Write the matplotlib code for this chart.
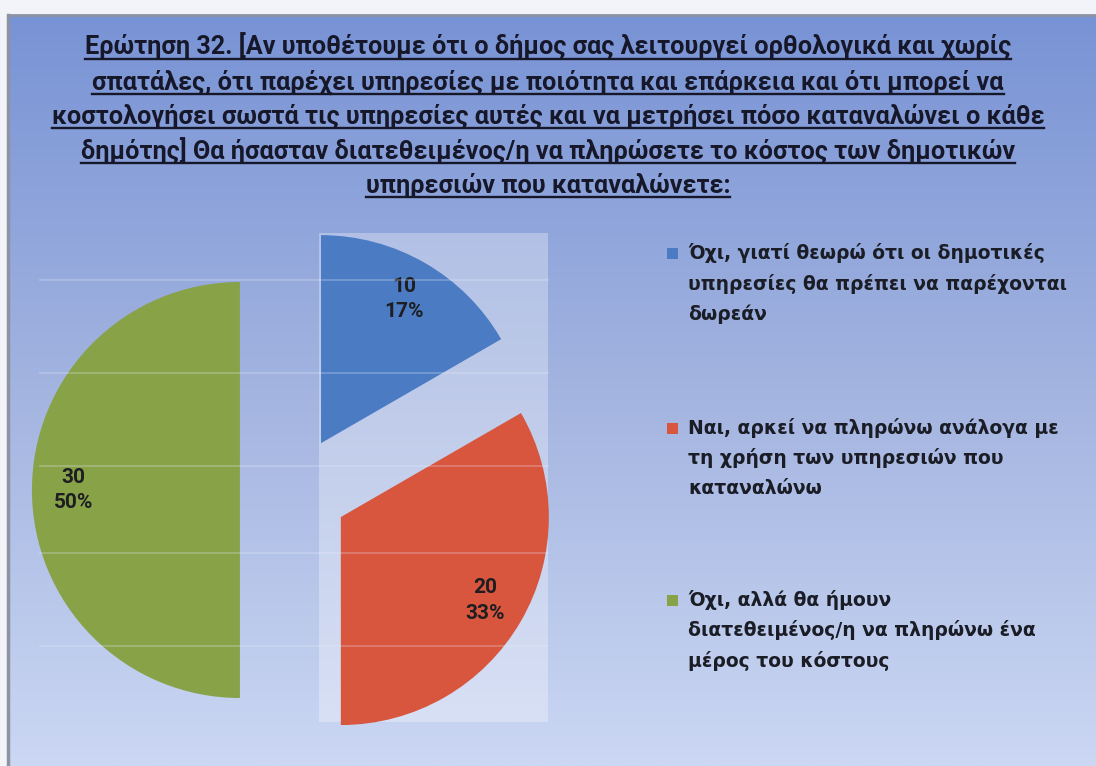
# Pie chart for survey question 32 (willingness to pay for municipal services).
import numpy as np
import matplotlib.pyplot as plt
from matplotlib.patches import Rectangle
from matplotlib.colors import LinearSegmentedColormap

# Survey answers and counts.
answers = [
    "Όχι, γιατί θεωρώ ότι οι δημοτικές\nυπηρεσίες θα πρέπει να παρέχονται\nδωρεάν",
    "Ναι, αρκεί να πληρώνω ανάλογα με\nτη χρήση των υπηρεσιών που\nκαταναλώνω",
    "Όχι, αλλά θα ήμουν\nδιατεθειμένος/η να πληρώνω ένα\nμέρος του κόστους",
]
counts = [10, 20, 30]
colors = ["#4b7bc3", "#d8553e", "#88a248"]

title_lines = [
    "Ερώτηση 32. [Αν υποθέτουμε ότι ο δήμος σας λειτουργεί ορθολογικά και χωρίς",
    "σπατάλες, ότι παρέχει υπηρεσίες με ποιότητα και επάρκεια και ότι μπορεί να",
    "κοστολογήσει σωστά τις υπηρεσίες αυτές και να μετρήσει πόσο καταναλώνει ο κάθε",
    "δημότης] Θα ήσασταν διατεθειμένος/η να πληρώσετε το κόστος των δημοτικών",
    "υπηρεσιών που καταναλώνετε:",
]

W, H = 1096, 766
fig = plt.figure(figsize=(W / 100, H / 100), dpi=100)
fig.patch.set_facecolor("#f3f4f9")

# background axes in pixel units (y down)
bg = fig.add_axes([0, 0, 1, 1])
bg.set_xlim(0, W)
bg.set_ylim(H, 0)
bg.axis("off")

grad = LinearSegmentedColormap.from_list("slide", ["#7893d5", "#a3b4e0", "#cbd7f3"])
g = np.linspace(0, 1, 256).reshape(-1, 1)
bg.imshow(g, cmap=grad, aspect="auto", extent=(8, W, H, 15), zorder=0)
bg.plot([8, W], [15, 15], color="#8d93a3", lw=2, zorder=1)
bg.plot([8, 8], [15, H], color="#8d93a3", lw=2.5, zorder=1)

# lighter panel behind the right-hand slices
bg.add_patch(Rectangle((319, 233), 229, 489, facecolor="white", alpha=0.3,
                       edgecolor="none", zorder=1))

# title, one underlined line at a time
title_font = ["Roboto", "DejaVu Sans"]
fig.canvas.draw()
renderer = fig.canvas.get_renderer()
for i, line in enumerate(title_lines):
    y = 55 + i * 34.5
    t = bg.text(548, y, line, ha="center", va="baseline", fontsize=18.2,
                fontweight="bold", family=title_font, color="#16182a", zorder=5)
    bb = t.get_window_extent(renderer)
    bg.plot([bb.x0, bb.x1], [y + 4, y + 4], color="#16182a", lw=1.7, zorder=5)

# pie axes in units of the radius
R = 208
cx, cy = 294, 490
pax = fig.add_axes([0, 0, 1, 1])
pax.axis("off")
pax.patch.set_alpha(0)

total = sum(counts)


def fmt(p):
    return "{:d}\n{:.0f}%".format(int(round(p * total / 100)), p)


wedges, _, autotexts = pax.pie(counts, colors=colors, startangle=90, counterclock=False,
                               explode=[0.26, 0.26, 0.26], autopct=fmt, pctdistance=0.8,
                               radius=1, center=(0, 0))
pax.set_aspect("auto")
pax.set_xlim(-cx / R, (W - cx) / R)
pax.set_ylim(-(H - cy) / R, cy / R)
for t in autotexts:
    t.set_fontsize(15)
    t.set_fontweight("bold")
    t.set_family(title_font)
    t.set_color("#1e1e22")
    t.set_linespacing(1.45)

# faint ruled lines across the pie area
rules = fig.add_axes([0, 0, 1, 1])
rules.set_xlim(0, W)
rules.set_ylim(H, 0)
rules.axis("off")
rules.patch.set_alpha(0)
for y in [280, 373, 466, 553, 646]:
    rules.plot([40, 548], [y, y], color="#e6ebf8", lw=1.2, alpha=0.3)

# legend drawn by hand: square marker + wrapped label
starts = [253, 428, 600]
for label, col, y0 in zip(answers, colors, starts):
    rules.add_patch(Rectangle((667, y0 - 5), 11, 11, facecolor=col, edgecolor="none"))
    for k, part in enumerate(label.split("\n")):
        rules.text(688, y0 + k * 30.5, part, ha="left", va="center", fontsize=13.5,
                   fontweight="bold", color="#1b1d26")

fig.savefig("out.png", dpi=100, facecolor=fig.get_facecolor())
